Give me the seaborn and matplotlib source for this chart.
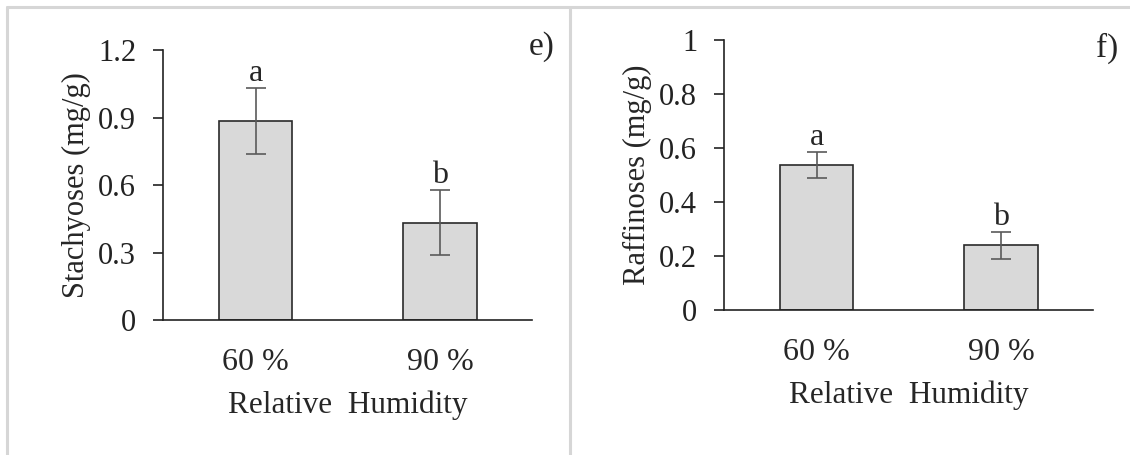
import matplotlib

matplotlib.use("Agg")

import matplotlib.pyplot as plt
import pandas as pd
import seaborn as sns
from matplotlib.lines import Line2D
from matplotlib.ticker import FuncFormatter

# data (mean and error per humidity level)
humidity = ["60 %", "90 %"]
stachyose_mean = [0.885, 0.432]
stachyose_err = [0.147, 0.145]
stachyose_letters = ["a", "b"]
raffinose_mean = [0.537, 0.240]
raffinose_err = [0.048, 0.050]
raffinose_letters = ["a", "b"]

sns.set_theme(style="white")
plt.rcParams.update(
    {
        "font.family": ["Liberation Serif", "DejaVu Serif"],
        "axes.edgecolor": "#222222",
        "axes.linewidth": 1.2,
        "ytick.color": "#222222",
        "ytick.major.width": 1.2,
    }
)

fig = plt.figure(figsize=(11.3, 4.55), dpi=100)
fig.patch.set_facecolor("white")

# light gray panel frames
frame = dict(color="#d6d6d6", linewidth=2.2, transform=fig.transFigure)
fig.add_artist(Line2D([7 / 1130, 1.0], [1 - 7 / 455] * 2, **frame))
fig.add_artist(Line2D([7 / 1130] * 2, [0, 1 - 7 / 455], **frame))
fig.add_artist(Line2D([569.5 / 1130] * 2, [0, 1 - 7 / 455], **frame))

panels = [
    dict(
        rect=[0.1445, 0.2967, 0.3266, 0.5934],
        mean=stachyose_mean,
        err=stachyose_err,
        letters=stachyose_letters,
        ylabel="Stachyoses (mg/g)",
        ymax=1.2,
        yticks=[0, 0.3, 0.6, 0.9, 1.2],
        tag="e)",
        tag_xy=(1.024, 1.011),
    ),
    dict(
        rect=[0.641, 0.3187, 0.3265, 0.5934],
        mean=raffinose_mean,
        err=raffinose_err,
        letters=raffinose_letters,
        ylabel="Raffinoses (mg/g)",
        ymax=1.0,
        yticks=[0, 0.2, 0.4, 0.6, 0.8, 1.0],
        tag="f)",
        tag_xy=(1.037, 0.970),
    ),
]

for panel in panels:
    ax = fig.add_axes(panel["rect"])
    table = pd.DataFrame({"humidity": humidity, "value": panel["mean"]})
    sns.barplot(
        data=table,
        x="humidity",
        y="value",
        color="#d9d9d9",
        saturation=1,
        width=0.4,
        edgecolor="#2a2a2a",
        linewidth=1.2,
        errorbar=None,
        ax=ax,
    )
    ax.errorbar(
        range(len(humidity)),
        panel["mean"],
        yerr=panel["err"],
        fmt="none",
        ecolor="#5a5a5a",
        elinewidth=1.2,
        capsize=7,
        capthick=1.2,
    )
    for i, letter in enumerate(panel["letters"]):
        ax.annotate(
            letter,
            xy=(i, panel["mean"][i] + panel["err"][i]),
            xytext=(0, 5),
            textcoords="offset points",
            ha="center",
            va="baseline",
            fontsize=23,
        )
    ax.set_xlim(-0.5, 1.5)
    ax.set_ylim(0, panel["ymax"])
    ax.set_yticks(panel["yticks"])
    ax.yaxis.set_major_formatter(FuncFormatter(lambda v, _: f"{v:g}"))
    ax.tick_params(axis="y", direction="out", length=7.5, pad=12, labelsize=22, left=True)
    ax.tick_params(axis="x", length=0, pad=20, labelsize=23)
    for side in ("top", "right"):
        ax.spines[side].set_visible(False)
    ax.set_xlabel("Relative  Humidity", fontsize=22.5, labelpad=10)
    ax.set_ylabel(panel["ylabel"], fontsize=22, labelpad=5)
    ax.text(
        *panel["tag_xy"],
        panel["tag"],
        transform=ax.transAxes,
        ha="center",
        va="center",
        fontsize=24,
    )

fig.savefig("out.png", dpi=100)
